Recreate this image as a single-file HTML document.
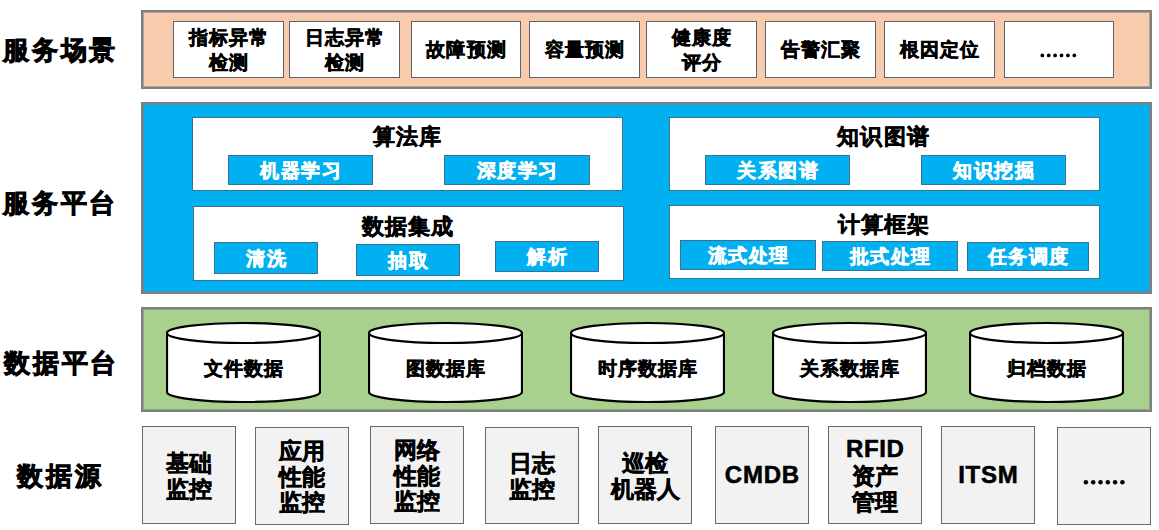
<!DOCTYPE html>
<html><head><meta charset="utf-8">
<style>
*{box-sizing:border-box;margin:0;padding:0}
html,body{width:1159px;height:530px;overflow:hidden;background:#fff}
body{position:relative;font-family:"Liberation Sans",sans-serif;font-weight:bold;color:#000;-webkit-text-stroke:0.55px #000}
.c{display:flex;align-items:center;justify-content:center;text-align:center}
.lab{position:absolute;font-size:25.5px;line-height:30px;white-space:nowrap;letter-spacing:2.8px;-webkit-text-stroke:0.9px #000}
.outer{position:absolute;left:141px;width:1011px;border:2px solid #7f7f7f;box-shadow:inset 0 0 0 1px rgba(127,127,127,0.55)}
.b1{position:absolute;top:21px;height:57px;background:#fff;border:1px solid #5f636c}
.t1{font-size:19px;line-height:24.3px;white-space:nowrap;letter-spacing:1.2px;padding-left:1.2px;position:relative;top:1.5px}
.wb{position:absolute;background:#fff;border:1px solid #38728f}
.bb{position:absolute;background:#00b0f0;border:1px solid #38728f;color:#fff;-webkit-text-stroke:0.55px #fff;font-size:19px;line-height:24px;white-space:nowrap;letter-spacing:1.4px;padding-left:1.4px;padding-top:1px}
.ttl{position:absolute;font-size:21.5px;line-height:26px;white-space:nowrap;letter-spacing:1.1px;padding-left:1.1px}
.b4{position:absolute;top:426px;height:98px;width:94px;background:#f2f2f2;border:1px solid #5a6b7c;font-size:22.5px;line-height:25.8px;padding-top:3px}
.cyl{position:absolute;top:321px}
.ct{position:absolute;font-size:19px;line-height:24px;white-space:nowrap;letter-spacing:1px;padding-left:1px}
</style></head><body>

<div class="lab" style="left:3px;top:34.7px">服务场景</div>
<div class="lab" style="left:3px;top:187.7px">服务平台</div>
<div class="lab" style="left:4px;top:347.7px">数据平台</div>
<div class="lab" style="left:17px;top:460.7px">数据源</div>
<div class="outer" style="top:10px;height:79px;background:#f8cbad"></div>
<div class="b1 c" style="left:173px;width:111px"><div class="t1" style="top:1.2px">指标异常<br>检测</div></div>
<div class="b1 c" style="left:289px;width:111px"><div class="t1" style="top:1.2px">日志异常<br>检测</div></div>
<div class="b1 c" style="left:411px;width:110px"><div class="t1" style="top:0.8px">故障预测</div></div>
<div class="b1 c" style="left:529px;width:111px"><div class="t1" style="top:0.8px">容量预测</div></div>
<div class="b1 c" style="left:646px;width:111px"><div class="t1" style="top:1.2px">健康度<br>评分</div></div>
<div class="b1 c" style="left:765px;width:111px"><div class="t1" style="top:0.8px">告警汇聚</div></div>
<div class="b1 c" style="left:884px;width:111px"><div class="t1" style="top:0.8px">根因定位</div></div>
<div class="b1 c" style="left:1004px;width:110px"><div class="t1" style="top:0.8px"></div></div>
<div class="outer" style="top:102px;height:192px;background:#00b0f0"></div>
<div class="wb" style="left:192px;top:117px;width:431px;height:74px"></div>
<div class="wb" style="left:669px;top:117px;width:431px;height:74px"></div>
<div class="wb" style="left:193px;top:206px;width:431px;height:75px"></div>
<div class="wb" style="left:669px;top:205px;width:431px;height:74px"></div>
<div class="ttl c" style="left:191.5px;top:124px;width:431px">算法库</div>
<div class="ttl c" style="left:667.5px;top:124px;width:431px">知识图谱</div>
<div class="ttl c" style="left:192px;top:214px;width:431px">数据集成</div>
<div class="ttl c" style="left:668px;top:212px;width:431px">计算框架</div>
<div class="bb c" style="left:228px;top:155px;width:145px;height:30px">机器学习</div>
<div class="bb c" style="left:444px;top:155px;width:146px;height:30px">深度学习</div>
<div class="bb c" style="left:705px;top:155px;width:145px;height:30px">关系图谱</div>
<div class="bb c" style="left:921px;top:155px;width:145px;height:30px">知识挖掘</div>
<div class="bb c" style="left:214px;top:242px;width:104px;height:32px">清洗</div>
<div class="bb c" style="left:356px;top:244px;width:104px;height:32px">抽取</div>
<div class="bb c" style="left:495px;top:241px;width:104px;height:31px">解析</div>
<div class="bb c" style="left:680px;top:240px;width:136px;height:30px">流式处理</div>
<div class="bb c" style="left:822px;top:241px;width:136px;height:30px">批式处理</div>
<div class="bb c" style="left:967px;top:242px;width:122px;height:29px">任务调度</div>
<div class="outer" style="top:307px;height:105px;background:#a9d18e"></div>
<svg class="cyl" style="left:166px" width="155" height="84" viewBox="0 0 155 84"><path d="M1,12 L1,71 A76.5,10 0 0 0 154,71 L154,12" fill="#fff" stroke="#000" stroke-width="2.2"/><ellipse cx="77.5" cy="12" rx="76.5" ry="10" fill="#fff" stroke="#000" stroke-width="2.2"/></svg>
<div class="ct c" style="left:166px;top:357px;width:155px">文件数据</div>
<svg class="cyl" style="left:368px" width="155" height="84" viewBox="0 0 155 84"><path d="M1,12 L1,71 A76.5,10 0 0 0 154,71 L154,12" fill="#fff" stroke="#000" stroke-width="2.2"/><ellipse cx="77.5" cy="12" rx="76.5" ry="10" fill="#fff" stroke="#000" stroke-width="2.2"/></svg>
<div class="ct c" style="left:368px;top:357px;width:155px">图数据库</div>
<svg class="cyl" style="left:570px" width="155" height="84" viewBox="0 0 155 84"><path d="M1,12 L1,71 A76.5,10 0 0 0 154,71 L154,12" fill="#fff" stroke="#000" stroke-width="2.2"/><ellipse cx="77.5" cy="12" rx="76.5" ry="10" fill="#fff" stroke="#000" stroke-width="2.2"/></svg>
<div class="ct c" style="left:570px;top:357px;width:155px">时序数据库</div>
<svg class="cyl" style="left:772px" width="155" height="84" viewBox="0 0 155 84"><path d="M1,12 L1,71 A76.5,10 0 0 0 154,71 L154,12" fill="#fff" stroke="#000" stroke-width="2.2"/><ellipse cx="77.5" cy="12" rx="76.5" ry="10" fill="#fff" stroke="#000" stroke-width="2.2"/></svg>
<div class="ct c" style="left:772px;top:357px;width:155px">关系数据库</div>
<svg class="cyl" style="left:969px" width="155" height="84" viewBox="0 0 155 84"><path d="M1,12 L1,71 A76.5,10 0 0 0 154,71 L154,12" fill="#fff" stroke="#000" stroke-width="2.2"/><ellipse cx="77.5" cy="12" rx="76.5" ry="10" fill="#fff" stroke="#000" stroke-width="2.2"/></svg>
<div class="ct c" style="left:969px;top:357px;width:155px">归档数据</div>
<div class="b4 c" style="left:142px;top:426px;height:98px"><div>基础<br>监控</div></div>
<div class="b4 c" style="left:255px;top:427px;height:98px"><div>应用<br>性能<br>监控</div></div>
<div class="b4 c" style="left:370px;top:426px;height:98px"><div>网络<br>性能<br>监控</div></div>
<div class="b4 c" style="left:485px;top:427px;height:97px"><div>日志<br>监控</div></div>
<div class="b4 c" style="left:598px;top:426px;height:98px"><div>巡检<br>机器人</div></div>
<div class="b4 c" style="left:715px;top:426px;height:98px"><div><span style="font-size:24px;letter-spacing:0.8px;padding-left:0.8px;position:relative;top:-1.5px">CMDB</span></div></div>
<div class="b4 c" style="left:828px;top:426px;height:98px"><div><span style="font-size:24px;letter-spacing:0.6px;padding-left:0.6px;position:relative;top:-1.5px">RFID</span><br>资产<br>管理</div></div>
<div class="b4 c" style="left:941px;top:426px;height:98px"><div><span style="font-size:24px;letter-spacing:0.8px;padding-left:0.8px;position:relative;top:-1.5px">ITSM</span></div></div>
<div class="b4 c" style="left:1057px;top:427px;height:98px"><div></div></div>
<svg style="position:absolute;left:1000px;top:40px" width="100" height="30"><circle cx="42.30" cy="15.40" r="1.85"/><circle cx="48.70" cy="15.40" r="1.85"/><circle cx="55.10" cy="15.40" r="1.85"/><circle cx="61.50" cy="15.40" r="1.85"/><circle cx="67.90" cy="15.40" r="1.85"/><circle cx="74.30" cy="15.40" r="1.85"/></svg>
<svg style="position:absolute;left:1060px;top:460px" width="90" height="40"><circle cx="25.90" cy="22.30" r="2.25"/><circle cx="33.20" cy="22.30" r="2.25"/><circle cx="40.50" cy="22.30" r="2.25"/><circle cx="47.80" cy="22.30" r="2.25"/><circle cx="55.10" cy="22.30" r="2.25"/><circle cx="62.40" cy="22.30" r="2.25"/></svg>
</body></html>
